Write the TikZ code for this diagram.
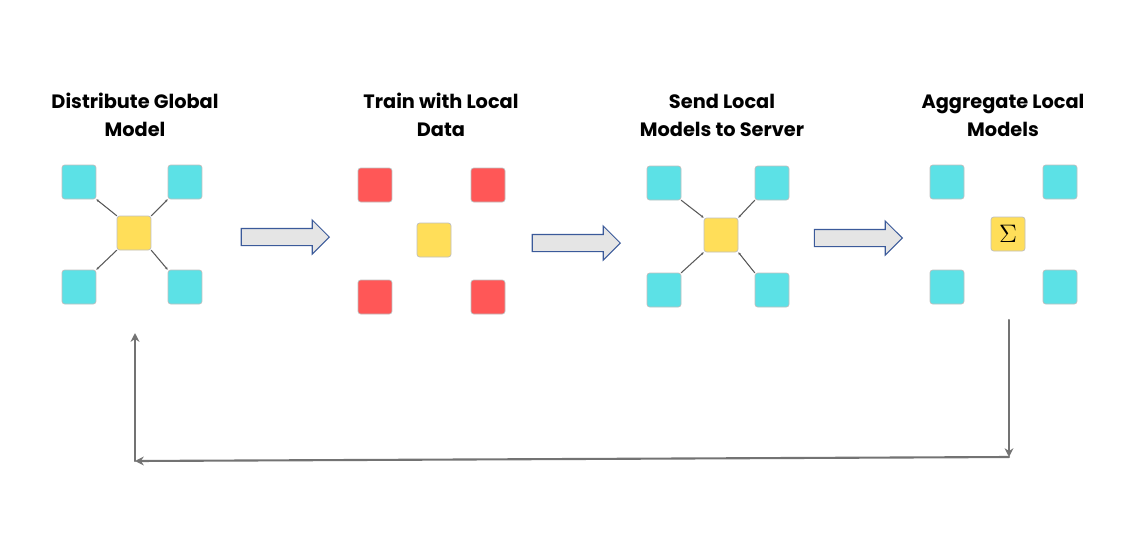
\documentclass[tikz,border=0pt]{standalone}
\usepackage{fontspec}
\setmainfont{Poppins}
\usetikzlibrary{arrows.meta,shapes.arrows}

\begin{document}
\begin{tikzpicture}
		[x=0.02cm,y=-0.02cm,line cap=round,
		%Styles
		box/.style={draw=black!25,rounded corners=1.5pt,minimum size=0.68cm,inner sep=0pt},
		client/.style={box,fill=clientcolor},
		trained/.style={box,fill=trainedcolor},
		server/.style={box,fill=servercolor},
		link/.style={draw=black!65,line width=0.6pt,-{Stealth[length=1.5pt,width=1.5pt]}},
		step arrow/.style={single arrow,draw=arrowborder,fill=black!10,line width=0.6pt,
			minimum height=1.76cm,inner sep=0.16cm,single arrow head extend=0.17cm},
		title/.style={align=center,font=\bfseries\fontsize{11}{16}\selectfont},
		loop line/.style={draw=black!55,line width=1.2pt}
		]
		
		%Colors
		\definecolor{clientcolor}{HTML}{5CE1E6}
		\definecolor{trainedcolor}{HTML}{FF5757}
		\definecolor{servercolor}{HTML}{FFDE59}
		\definecolor{arrowborder}{HTML}{3B5A9A}
		
		\useasboundingbox (0,0) rectangle (1140,535);
		
		%Titles
		\node[title] (t1) at (135,115) {Distribute Global\\Model};
		\node[title] (t2) at (441,115) {Train with Local\\Data};
		\node[title] (t3) at (722,115) {Send Local\\Models to Server};
		\node[title] (t4) at (1003,115) {Aggregate Local\\Models};
		
		%Distribute global model
		\node[server] (s1) at (134,233) {};
		\node[client] (a1) at (79,182) {};
		\node[client] (b1) at (185,182) {};
		\node[client] (c1) at (79,287) {};
		\node[client] (d1) at (185,287) {};
		\draw[link] (s1.north west) -- (a1.south east);
		\draw[link] (s1.north east) -- (b1.south west);
		\draw[link] (s1.south west) -- (c1.north east);
		\draw[link] (s1.south east) -- (d1.north west);
		
		%Train with local data
		\node[server] (s2) at (434,240) {};
		\node[trained] (a2) at (375,185) {};
		\node[trained] (b2) at (488,185) {};
		\node[trained] (c2) at (375,297) {};
		\node[trained] (d2) at (488,297) {};
		
		%Send local models
		\node[server] (s3) at (721,235) {};
		\node[client] (a3) at (664,183) {};
		\node[client] (b3) at (772,183) {};
		\node[client] (c3) at (664,290) {};
		\node[client] (d3) at (772,290) {};
		\draw[link] (a3.south east) -- (s3.north west);
		\draw[link] (b3.south west) -- (s3.north east);
		\draw[link] (c3.north east) -- (s3.south west);
		\draw[link] (d3.north west) -- (s3.south east);
		
		%Aggregate
		\node[server] (s4) at (1008,234) {\Large$\Sigma$};
		\node[client] (a4) at (947,182) {};
		\node[client] (b4) at (1060,182) {};
		\node[client] (c4) at (947,287) {};
		\node[client] (d4) at (1060,287) {};
		
		%Steps
		\node[step arrow] (p1) at (281,237) {};
		\node[step arrow] (p2) at (572,243) {};
		\node[step arrow] (p3) at (854,238) {};
		
		%Feedback loop
		\coordinate (r0) at (1009,320);
		\coordinate (r1) at (1009,457);
		\coordinate (l1) at (135,461);
		\coordinate (l0) at (135,333);
		\draw[loop line,-{Stealth[length=5pt,width=5pt]}] (r0) -- (r1);
		\draw[loop line,-{Stealth[length=5pt,width=5pt]}] (r1) -- (l1);
		\draw[loop line,-{Stealth[length=5pt,width=5pt]}] (l1) -- (l0);
	\end{tikzpicture}
\end{document}
